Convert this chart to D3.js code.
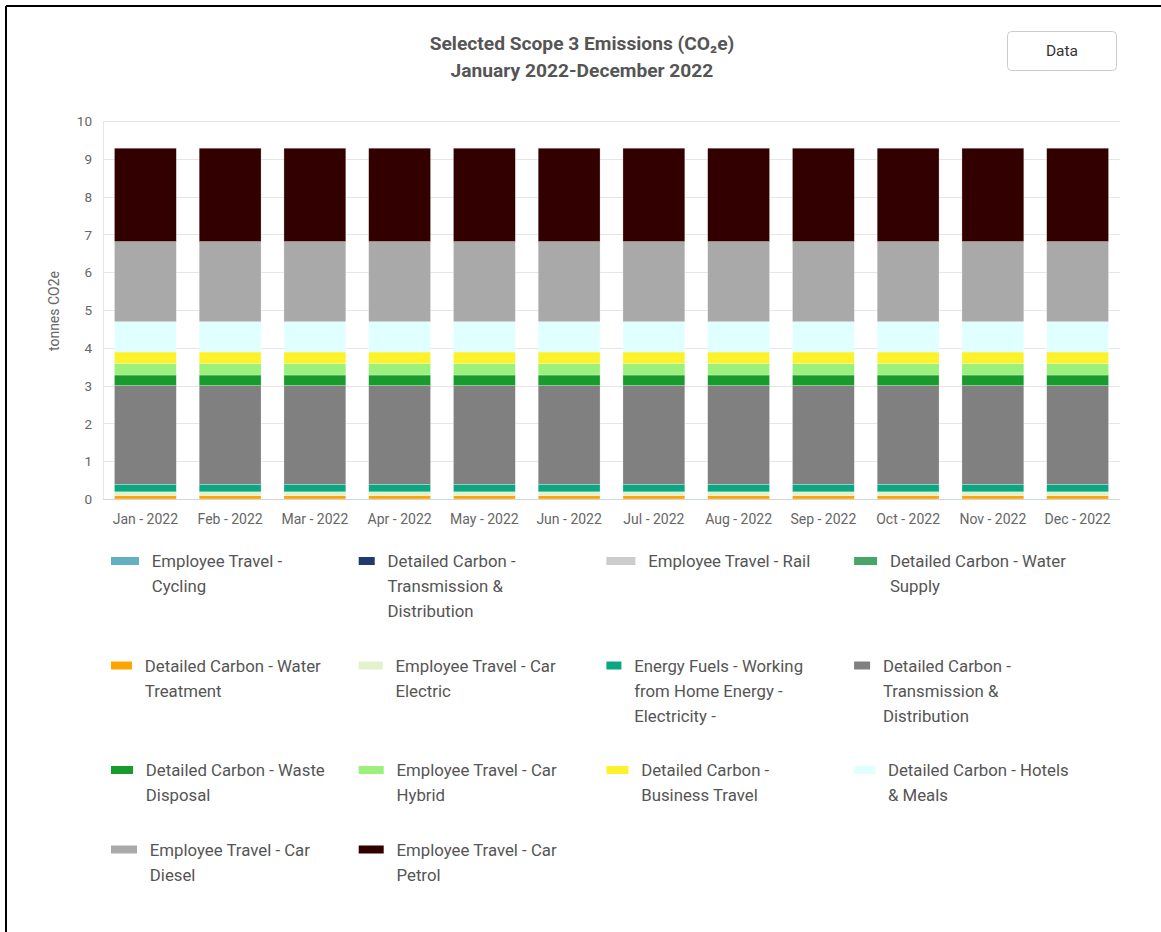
<!DOCTYPE html>
<html>
<head>
<meta charset="utf-8">
<script src="https://cdn.jsdelivr.net/npm/d3@7/dist/d3.min.js"></script>
<style>
body { margin: 0; background: #fff; }
svg { display: block; font-family: Roboto, "Noto Sans", sans-serif; }
</style>
</head>
<body>
<div id="chart"></div>
<script>
// ---- data ----
var months = ["Jan - 2022", "Feb - 2022", "Mar - 2022", "Apr - 2022", "May - 2022", "Jun - 2022",
              "Jul - 2022", "Aug - 2022", "Sep - 2022", "Oct - 2022", "Nov - 2022", "Dec - 2022"];

var seriesNames = [
  "Employee Travel - Cycling",
  "Detailed Carbon - Transmission & Distribution",
  "Employee Travel - Rail",
  "Detailed Carbon - Water Supply",
  "Detailed Carbon - Water Treatment",
  "Employee Travel - Car Electric",
  "Energy Fuels - Working from Home Energy - Electricity -",
  "Detailed Carbon - Transmission & Distribution ",
  "Detailed Carbon - Waste Disposal",
  "Employee Travel - Car Hybrid",
  "Detailed Carbon - Business Travel",
  "Detailed Carbon - Hotels & Meals",
  "Employee Travel - Car Diesel",
  "Employee Travel - Car Petrol"
];

var seriesColors = ["#62b0c2", "#1f3a6b", "#cccccc", "#48a56a", "#ffa500", "#e2f2cb", "#0aa882",
                    "#808080", "#189a2c", "#9cf07c", "#fcf22c", "#e0ffff", "#a9a9a9", "#330000"];

var cycling        = [0, 0, 0, 0, 0, 0, 0, 0, 0, 0, 0, 0];
var tdBlue         = [0, 0, 0, 0, 0, 0, 0, 0, 0, 0, 0, 0];
var rail           = [0, 0, 0, 0, 0, 0, 0, 0, 0, 0, 0, 0];
var waterSupply    = [0, 0, 0, 0, 0, 0, 0, 0, 0, 0, 0, 0];
var waterTreatment = [0.09, 0.09, 0.09, 0.09, 0.09, 0.09, 0.09, 0.09, 0.09, 0.09, 0.09, 0.09];
var carElectric    = [0.10, 0.10, 0.10, 0.10, 0.10, 0.10, 0.10, 0.10, 0.10, 0.10, 0.10, 0.10];
var energyFuels    = [0.20, 0.20, 0.20, 0.20, 0.20, 0.20, 0.20, 0.20, 0.20, 0.20, 0.20, 0.20];
var tdGray         = [2.61, 2.61, 2.61, 2.61, 2.61, 2.61, 2.61, 2.61, 2.61, 2.61, 2.61, 2.61];
var wasteDisposal  = [0.28, 0.28, 0.28, 0.28, 0.28, 0.28, 0.28, 0.28, 0.28, 0.28, 0.28, 0.28];
var carHybrid      = [0.30, 0.30, 0.30, 0.30, 0.30, 0.30, 0.30, 0.30, 0.30, 0.30, 0.30, 0.30];
var businessTravel = [0.31, 0.31, 0.31, 0.31, 0.31, 0.31, 0.31, 0.31, 0.31, 0.31, 0.31, 0.31];
var hotelsMeals    = [0.80, 0.80, 0.80, 0.80, 0.80, 0.80, 0.80, 0.80, 0.80, 0.80, 0.80, 0.80];
var carDiesel      = [2.12, 2.12, 2.12, 2.12, 2.12, 2.12, 2.12, 2.12, 2.12, 2.12, 2.12, 2.12];
var carPetrol      = [2.47, 2.47, 2.47, 2.47, 2.47, 2.47, 2.47, 2.47, 2.47, 2.47, 2.47, 2.47];

var yTicks = [0, 1, 2, 3, 4, 5, 6, 7, 8, 9, 10];

var seriesValues = [cycling, tdBlue, rail, waterSupply, waterTreatment, carElectric, energyFuels,
                    tdGray, wasteDisposal, carHybrid, businessTravel, hotelsMeals, carDiesel, carPetrol];

// legend swatch widths (they differ a bit in the original)
var swatchW = [28, 16, 29, 23, 21, 24, 15, 16, 22, 25, 22, 21, 26, 25];

// ---- layout ----
var width = 1161, height = 932;
var plotLeft = 103, plotRight = 1120, plotTop = 121, plotBottom = 499;

var svg = d3.select("#chart").append("svg").attr("width", width).attr("height", height);

// frame (only top / left edges show in the screenshot)
svg.append("line").attr("x1", 6).attr("x2", width).attr("y1", 6).attr("y2", 6)
  .style("stroke", "#000").style("stroke-width", 2);
svg.append("line").attr("x1", 6).attr("x2", 6).attr("y1", 6).attr("y2", height)
  .style("stroke", "#000").style("stroke-width", 2);

// title
var title = svg.append("text").attr("text-anchor", "middle")
  .style("font-size", "19.2px").style("font-weight", "bold").style("fill", "#555");
title.append("tspan").attr("x", 582).attr("y", 50).text("Selected Scope 3 Emissions (CO\u2082e)");
title.append("tspan").attr("x", 582).attr("y", 77).text("January 2022-December 2022");

// Data button
svg.append("rect").attr("x", 1007.5).attr("y", 31.5).attr("width", 109).attr("height", 39).attr("rx", 4)
  .style("fill", "#fff").style("stroke", "#ccc");
svg.append("text").attr("x", 1062).attr("y", 56).attr("text-anchor", "middle")
  .style("font-size", "15.5px").style("fill", "#333").text("Data");

// scales
var x = d3.scaleBand().domain(months).range([plotLeft, plotRight]).paddingInner(0.27).paddingOuter(0.135);
var y = d3.scaleLinear().domain([0, 10]).range([plotBottom, plotTop]);

// gridlines
svg.append("g").selectAll("line").data(yTicks).enter().append("line")
  .attr("x1", plotLeft).attr("x2", plotRight)
  .attr("y1", function(d) { return Math.round(y(d)) + 0.5; })
  .attr("y2", function(d) { return Math.round(y(d)) + 0.5; })
  .style("stroke", "#e6e6e6");
svg.append("line").attr("x1", plotLeft + 0.5).attr("x2", plotLeft + 0.5).attr("y1", plotTop).attr("y2", plotBottom)
  .style("stroke", "#e6e6e6");

// y axis
var yAxis = svg.append("g").attr("transform", "translate(" + (plotLeft - 11) + ",0)")
  .call(d3.axisLeft(y).tickValues(yTicks).tickSize(0).tickPadding(0));
yAxis.select(".domain").remove();
yAxis.selectAll("text").style("font-size", "13.5px").style("fill", "#666").style("font-family", "Roboto, sans-serif")
  .attr("dy", "0.35em");

svg.append("text").attr("transform", "translate(59,311) rotate(-90)").attr("text-anchor", "middle")
  .style("font-size", "14px").style("fill", "#666").text("tonnes CO2e");

// stacked bars
var table = months.map(function(m, i) {
  var row = { month: m };
  seriesNames.forEach(function(s, k) { row[s] = seriesValues[k][i]; });
  return row;
});
var stacked = d3.stack().keys(seriesNames)(table);

svg.append("g").selectAll("g").data(stacked).enter().append("g")
  .style("fill", function(d, k) { return seriesColors[k]; })
  .selectAll("rect")
  .data(function(d) { return d.filter(function(p) { return p[1] - p[0] > 0; }); })
  .enter().append("rect")
  .attr("x", function(p) { return x(p.data.month); })
  .attr("width", x.bandwidth())
  .attr("y", function(p) { return y(p[1]); })
  .attr("height", function(p) { return y(p[0]) - y(p[1]); })
  .style("stroke", "rgba(255,255,255,0.45)").style("stroke-width", 0.6);

// x axis
svg.append("line").attr("x1", plotLeft).attr("x2", plotRight).attr("y1", plotBottom + 0.5).attr("y2", plotBottom + 0.5)
  .style("stroke", "#ccd6eb");
var xAxis = svg.append("g").attr("transform", "translate(0," + plotBottom + ")")
  .call(d3.axisBottom(x).tickSize(0).tickPadding(0));
xAxis.select(".domain").remove();
xAxis.selectAll("text").attr("y", 25).attr("dy", 0)
  .style("font-size", "14px").style("fill", "#666").style("font-family", "Roboto, sans-serif");

// legend
var colStep = 247.7, legendX = 111, rowY = 567, lineH = 25, maxTextW = 185;
var legend = svg.append("g").style("font-size", "16.8px").style("fill", "#555");

function wrapLines(label) {
  var words = label.trim().split(" ");
  var probe = legend.append("text");
  var lines = [], cur = "";
  words.forEach(function(w) {
    var trial = cur ? cur + " " + w : w;
    probe.text(trial);
    if (cur && probe.node().getComputedTextLength() > maxTextW) {
      lines.push(cur);
      cur = w;
    } else {
      cur = trial;
    }
  });
  lines.push(cur);
  probe.remove();
  return lines;
}

var rowMax = 0;
seriesNames.forEach(function(name, i) {
  var col = i % 4;
  if (col === 0 && i > 0) { rowY += rowMax * lineH + 29.5; rowMax = 0; }
  var lines = wrapLines(name);
  rowMax = Math.max(rowMax, lines.length);
  var sx = legendX + col * colStep;
  legend.append("rect").attr("x", sx).attr("y", rowY - 10).attr("width", swatchW[i]).attr("height", 8)
    .style("fill", seriesColors[i]);
  var t = legend.append("text");
  lines.forEach(function(l, j) {
    t.append("tspan").attr("x", sx + swatchW[i] + 12.8).attr("y", rowY + j * lineH).text(l);
  });
});
</script>
</body>
</html>
